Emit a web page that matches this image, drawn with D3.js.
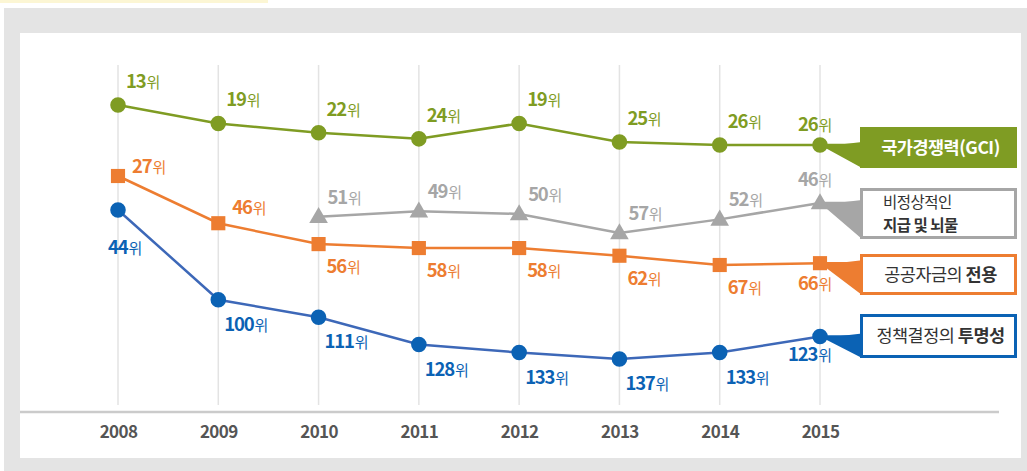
<!DOCTYPE html>
<html>
<head>
<meta charset="utf-8">
<script src="https://cdn.jsdelivr.net/npm/d3@7/dist/d3.min.js"></script>
<style>
  body { margin: 0; background: #fff; }
  svg text { font-family: "Noto Sans CJK KR", "Noto Sans", sans-serif; }
</style>
</head>
<body>
<div id="app"></div>
<script>
'use strict'

// Data
const years = ['2008', '2009', '2010', '2011', '2012', '2013', '2014', '2015']
const gciRank = [13, 19, 22, 24, 19, 25, 26, 26]
const bribeRank = [null, null, 51, 49, 50, 57, 52, 46]
const diversionRank = [27, 46, 56, 58, 58, 62, 67, 66]
const transparencyRank = [44, 100, 111, 128, 133, 137, 133, 123]
const rankSuffix = '위'
const legendLines = [
  [['국가경쟁력(GCI)', true]],
  [['비정상적인', false]],
  [['공공자금의 ', false], ['전용', true]],
  [['정책결정의 ', false], ['투명성', true]]
]
const legendSecondLine = [null, [['지급 및 뇌물', true]], null, null]

const setWidth = 1027
const setHeight = 471

// layout / style for each series
const series = [
  { values: gciRank, color: '#7f9c23', fill: '#7f9c23', shape: 'circle', band: [105, 145], exp: 1,
    label: { dx: 8, dy: -17 }, lastLabel: { dx: -22, dy: -14 }, box: { y: 127, h: 41, solid: true } },
  { values: bribeRank, color: '#a6a6a6', fill: '#a6a6a6', shape: 'triangle', band: [203, 233], exp: 1,
    label: { dx: 9, dy: -13 }, lastLabel: { dx: -22, dy: -17 }, box: { y: 188, h: 51, solid: false } },
  { values: diversionRank, color: '#ed7d31', fill: '#ed7d31', shape: 'square', band: [176, 265], exp: 0.5,
    label: { dx: 8, dy: 29 }, lastLabel: { dx: -22, dy: 27 }, box: { y: 254, h: 41, solid: false },
    overrides: { 0: { dx: 14, dy: -3 }, 1: { dx: 14, dy: -9 } } },
  { values: transparencyRank, color: '#3d68b8', fill: '#0b62b4', shape: 'circle', band: [210, 359], exp: 1,
    label: { dx: 6, dy: 31 }, lastLabel: { dx: -32, dy: 24 }, box: { y: 314, h: 44, solid: false },
    textColor: '#0b62b4', overrides: { 0: { dx: -10, dy: 44 } } }
]

const svg = d3.select('#app')
  .append('svg')
  .attr('width', setWidth)
  .attr('height', setHeight)

// frame
svg.append('rect').attr('x', 0).attr('y', 0).attr('width', 268).attr('height', 3).attr('fill', '#fcf6d4')
svg.append('rect').attr('x', 4).attr('y', 8).attr('width', setWidth - 4).attr('height', setHeight - 8).attr('fill', '#e4e4e4')
svg.append('rect').attr('x', 20).attr('y', 33).attr('width', 1001).attr('height', 425).attr('fill', '#ffffff')

const scaleX = d3.scalePoint()
  .domain(years)
  .range([118, 820])

// grid lines
svg.append('g')
  .selectAll('line')
  .data(years)
  .enter()
  .append('line')
  .attr('x1', d => scaleX(d))
  .attr('x2', d => scaleX(d))
  .attr('y1', 65)
  .attr('y2', 405)
  .attr('stroke', '#e3e3e3')
  .attr('stroke-width', 1.5)

// bottom axis
svg.append('line')
  .attr('x1', 20).attr('x2', 999)
  .attr('y1', 412).attr('y2', 412)
  .attr('stroke', '#cbcbcb')
  .attr('stroke-width', 2.5)

const axis = svg.append('g')
  .attr('transform', 'translate(0,412)')
  .call(d3.axisBottom(scaleX).tickSize(0).tickPadding(14))
axis.select('.domain').remove()
axis.selectAll('text')
  .attr('font-size', 17)
  .attr('font-weight', 'bold')
  .attr('fill', '#555555')
  .attr('letter-spacing', -0.6)
  .style('font-family', '"Noto Sans CJK KR", sans-serif')

const symbolFor = shape => {
  if (shape === 'triangle') return d3.symbol().type(d3.symbolTriangle).size(150)()
  if (shape === 'square') return d3.symbol().type(d3.symbolSquare).size(200)()
  return d3.symbol().type(d3.symbolCircle).size(190)()
}

const boxX = 860
const boxW = 157

series.forEach((s, si) => {
  const pts = years.map((y, i) => ({ year: y, v: s.values[i], i })).filter(d => d.v !== null)
  const scaleY = d3.scalePow()
    .exponent(s.exp)
    .domain(d3.extent(pts, d => d.v))
    .range(s.band)

  const g = svg.append('g')
  const last = pts[pts.length - 1]
  const lx = scaleX(last.year)
  const ly = scaleY(last.v)
  const strong = s.textColor || s.color

  // legend tail + box
  const b = s.box
  g.append('path')
    .attr('d', `M${lx},${ly} L${lx + 16},${ly} L${boxX + 2},${Math.min(ly - 3, b.y + b.h - 8)} L${boxX + 2},${b.y + b.h} Z`)
    .attr('fill', strong)
  g.append('line')
    .attr('x1', lx).attr('x2', boxX)
    .attr('y1', ly).attr('y2', ly)
    .attr('stroke', strong).attr('stroke-width', 2.5)
  g.append('rect')
    .attr('x', boxX + (b.solid ? 0 : 1.5))
    .attr('y', b.y + (b.solid ? 0 : 1.5))
    .attr('width', boxW - (b.solid ? 0 : 3))
    .attr('height', b.h - (b.solid ? 0 : 3))
    .attr('fill', b.solid ? s.color : '#ffffff')
    .attr('stroke', b.solid ? 'none' : strong)
    .attr('stroke-width', 3)

  const lines = [legendLines[si]]
  if (legendSecondLine[si]) lines.push(legendSecondLine[si])
  const multi = lines.length > 1
  lines.forEach((parts, li) => {
    const t = g.append('text')
      .attr('x', multi ? boxX + 23 : boxX + boxW / 2 + 2)
      .attr('y', multi ? b.y + 20 + li * 23 : b.y + b.h / 2 + 6)
      .attr('text-anchor', multi ? 'start' : 'middle')
      .attr('font-size', multi ? 15.5 : 17.5)
      .attr('letter-spacing', -0.5)
      .attr('fill', b.solid ? '#ffffff' : '#333333')
    parts.forEach(p => {
      t.append('tspan').text(p[0]).attr('font-weight', p[1] ? 'bold' : 'normal')
    })
  })

  // line
  g.append('path')
    .datum(pts)
    .attr('d', d3.line().x(d => scaleX(d.year)).y(d => scaleY(d.v)))
    .attr('fill', 'none')
    .attr('stroke', s.color)
    .attr('stroke-width', 2.5)

  // markers
  g.selectAll('.mark')
    .data(pts)
    .enter()
    .append('path')
    .attr('class', 'mark')
    .attr('d', symbolFor(s.shape))
    .attr('transform', d => `translate(${scaleX(d.year)},${scaleY(d.v) + (s.shape === 'triangle' ? 1 : 0)})`)
    .attr('fill', s.fill)

  // value labels
  const lbl = g.selectAll('.lbl')
    .data(pts)
    .enter()
    .append('text')
    .attr('class', 'lbl')
    .attr('x', d => {
      const o = (s.overrides && s.overrides[d.i]) || (d === last ? s.lastLabel : s.label)
      return scaleX(d.year) + o.dx
    })
    .attr('y', d => {
      const o = (s.overrides && s.overrides[d.i]) || (d === last ? s.lastLabel : s.label)
      return scaleY(d.v) + o.dy
    })
    .attr('fill', strong)
    .attr('letter-spacing', -1.2)
  lbl.append('tspan').text(d => d.v).attr('font-size', 18.5).attr('font-weight', 'bold')
  lbl.append('tspan').text(rankSuffix).attr('font-size', 15).attr('dx', 1)
})
</script>
</body>
</html>
